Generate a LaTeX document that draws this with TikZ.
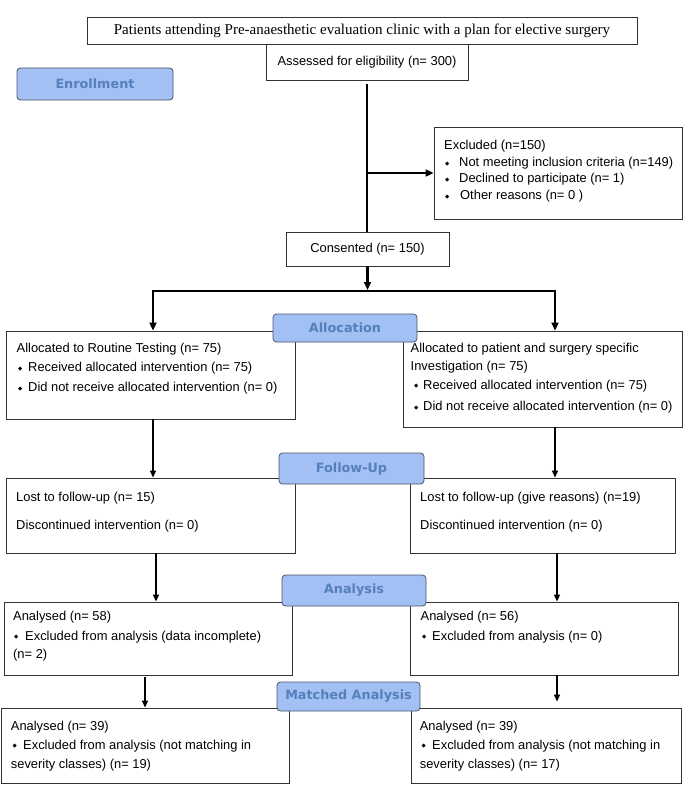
\documentclass[tikz,border=0pt]{standalone}
\usepackage{fontspec}
\setmainfont{Liberation Sans}
\newfontfamily\serifTNR{Liberation Serif}
\newfontfamily\dejavu{DejaVu Sans}
\usetikzlibrary{arrows.meta}
\definecolor{labfill}{HTML}{A2C0F4}
\definecolor{labtext}{HTML}{5580BA}
\definecolor{labdraw}{HTML}{4A5568}
\definecolor{boxdraw}{HTML}{333333}
\newcommand{\bl}[1]{\makebox[#1][l]{\raisebox{1.2pt}{\dejavu\fontsize{5.5}{6}\selectfont ◆}}}
\begin{document}
\begin{tikzpicture}[x=1pt,y=-1pt,
 corners/.style n args={4}{minimum width={(#3-#1)*1pt},minimum height={(#4-#2)*1pt},at={({(#1+#3)/2},{(#2+#4)/2})}},
 box/.style={draw=boxdraw,line width=0.9pt,inner sep=0pt,fill=white,font=\fontsize{12.9}{15}\selectfont},
 lab/.style={draw=labdraw,line width=0.8pt,fill=labfill,rounded corners=3.5pt,inner sep=0pt,font=\dejavu\bfseries\fontsize{12.8}{14}\selectfont,text=labtext},
 txt/.style={anchor=base west,inner sep=0pt,font=\fontsize{12.9}{15}\selectfont},
 mainarr/.style={line width=2.2pt,-{Triangle[length=8pt,width=7pt]}},
 arr/.style={line width=1.5pt,-{Triangle[length=7pt,width=6pt]}},
]
\useasboundingbox (0,0) rectangle (700,800);

% boxes
\node[box,corners={87}{17}{637}{44},font=\serifTNR\fontsize{15}{17}\selectfont] (top) {Patients attending Pre-anaesthetic evaluation clinic with a plan for elective surgery};
\node[box,corners={266}{44}{468}{80}] (assessed) {Assessed for eligibility (n= 300)};
\node[box,corners={434}{127}{682}{219}] (excluded) {};
\node[box,corners={286}{232}{449}{266}] (consented) {Consented (n= 150)};
\node[box,corners={6}{331}{295}{419}] (allocL) {};
\node[box,corners={403}{331}{682}{427}] (allocR) {};
\node[box,corners={6}{478}{295}{553}] (fuL) {};
\node[box,corners={410}{478}{675}{553}] (fuR) {};
\node[box,corners={4}{602}{292}{675}] (anL) {};
\node[box,corners={410}{602}{678}{675}] (anR) {};
\node[box,corners={1}{708}{289}{783}] (mL) {};
\node[box,corners={411}{708}{681}{783}] (mR) {};

% texts
\node[txt] (ex1) at (444,149) {Excluded (n=150)};
\node[txt] (ex2) at (445,166.7) {\bl{14pt}Not meeting inclusion criteria (n=149)};
\node[txt] (ex3) at (445,182.7) {\bl{14pt}Declined to participate (n= 1)};
\node[txt] (ex4) at (445,199.3) {\bl{15pt}Other reasons (n= 0 )};

\node[txt] (al1) at (16.5,352.7) {Allocated to Routine Testing (n= 75)};
\node[txt] (al2) at (18,371.7) {\bl{10pt}Received allocated intervention (n= 75)};
\node[txt] (al3) at (18,391.7) {\bl{10pt}Did not receive allocated intervention (n= 0)};

\node[txt] (ar1) at (410.5,352.7) {Allocated to patient and surgery specific};
\node[txt] (ar2) at (410.5,370) {Investigation (n= 75)};
\node[txt] (ar3) at (414,389) {\bl{9pt}Received allocated intervention (n= 75)};
\node[txt] (ar4) at (414,410.7) {\bl{9pt}Did not receive allocated intervention (n= 0)};

\node[txt] (fl1) at (16,501.7) {Lost to follow-up (n= 15)};
\node[txt] (fl2) at (16,529.3) {Discontinued intervention (n= 0)};
\node[txt] (fr1) at (420,501.7) {Lost to follow-up (give reasons) (n=19)};
\node[txt] (fr2) at (420,529.3) {Discontinued intervention (n= 0)};

\node[txt] (nl1) at (13,620.3) {Analysed (n= 58)};
\node[txt] (nl2) at (14,640) {\bl{11pt}Excluded from analysis (data incomplete)};
\node[txt] (nl3) at (13,658.3) {(n= 2)};
\node[txt] (nr1) at (420.5,620.3) {Analysed (n= 56)};
\node[txt] (nr2) at (422,640) {\bl{10pt}Excluded from analysis (n= 0)};

\node[txt] (ml1) at (10.7,730.7) {Analysed (n= 39)};
\node[txt] (ml2) at (12.5,749) {\bl{10.5pt}Excluded from analysis (not matching in};
\node[txt] (ml3) at (10.7,768) {severity classes) (n= 19)};
\node[txt] (mr1) at (419.6,730.7) {Analysed (n= 39)};
\node[txt] (mr2) at (421.5,749) {\bl{10.5pt}Excluded from analysis (not matching in};
\node[txt] (mr3) at (419.6,768) {severity classes) (n= 17)};

% connectors
\coordinate (sl) at (153,291);
\coordinate (sr) at (555,291);
\draw[line width=2.2pt] ([yshift=-4pt]assessed.south) -- (assessed.south |- consented.north);
\draw[mainarr] (assessed.south |- excluded.west) -- (excluded.west);
\draw[mainarr,shorten >=1pt] (consented.south) -- (consented.south |- sl);
\draw[line width=2.2pt,{Triangle[length=8pt,width=7pt]}-{Triangle[length=8pt,width=7pt]}] (sl |- allocL.north) -- (sl) -- (sr) -- (sr |- allocR.north);
\draw[arr] ([xshift=2.5pt]allocL.south) -- ([xshift=2.5pt]allocL.south |- fuL.north);
\draw[arr] ([xshift=12.5pt]allocR.south) -- ([xshift=12.5pt]allocR.south |- fuR.north);
\draw[arr] ([xshift=5.5pt]fuL.south) -- ([xshift=5.5pt]fuL.south |- anL.north);
\draw[arr] ([xshift=14.5pt]fuR.south) -- ([xshift=14.5pt]fuR.south |- anR.north);
\draw[arr] ([xshift=-3pt,yshift=-2pt]anL.south) -- ([xshift=-3pt]anL.south |- mL.north);
\draw[arr,shorten >=6pt] ([xshift=13pt]anR.south) -- ([xshift=13pt]anR.south |- mR.north);

% stage labels
\node[lab,corners={17}{68}{173}{100}] (enroll) {Enrollment};
\node[lab,corners={273}{314}{417}{342}] (allocation) {Allocation};
\node[lab,corners={279}{453}{424}{484}] (followup) {Follow-Up};
\node[lab,corners={282}{575}{426}{606}] (analysis) {Analysis};
\node[lab,corners={277}{682}{420}{711}] (matched) {Matched Analysis};
\end{tikzpicture}
\end{document}
